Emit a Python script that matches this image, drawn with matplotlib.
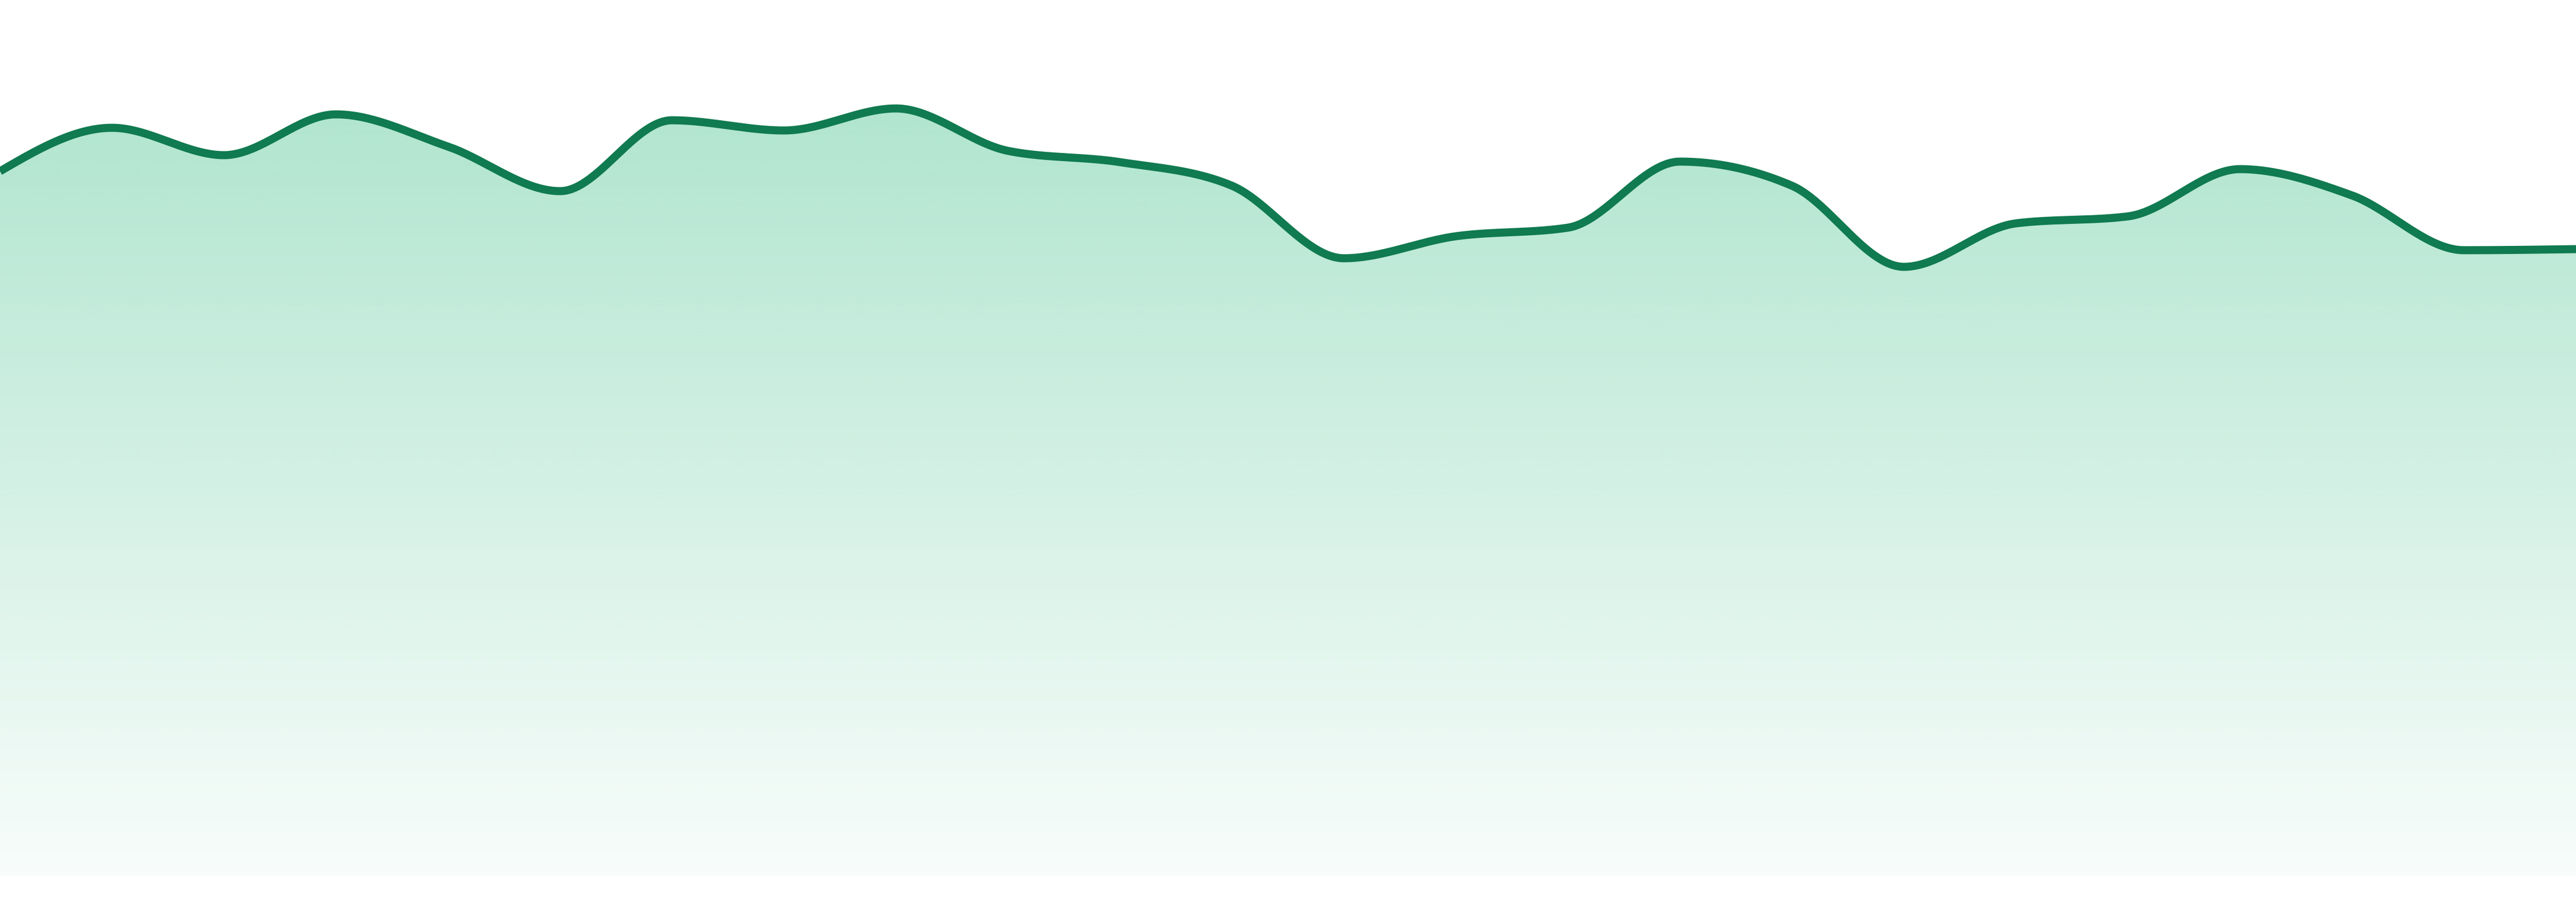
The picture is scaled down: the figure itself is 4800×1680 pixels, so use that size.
import numpy as np
import matplotlib
matplotlib.use("Agg")
import matplotlib.pyplot as plt
from matplotlib.patches import Polygon

# values (arbitrary units, 0 = bottom of the fill)
steps = list(range(24))
values = [131.3, 139.4, 134.3, 141.9, 135.9, 127.6, 140.8, 138.9,
          143.0, 135.1, 133.0, 128.6, 115.1, 119.2, 120.8, 133.1,
          128.6, 113.5, 121.6, 122.9, 131.7, 126.8, 116.6, 116.8]

LINE_COLOR = '#107a50'
FILL_RGB = (16 / 255, 176 / 255, 110 / 255)


def monotone_x(x, y, n=60):
    """Monotone cubic interpolation (same rule as d3 curveMonotoneX)."""
    x = np.asarray(x, float)
    y = np.asarray(y, float)
    h = np.diff(x)
    s = np.diff(y) / h
    t = np.zeros_like(y)
    for i in range(1, len(y) - 1):
        p = (s[i - 1] * h[i] + s[i] * h[i - 1]) / (h[i - 1] + h[i])
        t[i] = (np.sign(s[i - 1]) + np.sign(s[i])) * min(abs(s[i - 1]), abs(s[i]), 0.5 * abs(p))
    t[0] = (3 * s[0] - t[1]) / 2
    t[-1] = (3 * s[-1] - t[-2]) / 2

    xs, ys = [], []
    for i in range(len(h)):
        u = np.linspace(0, 1, n, endpoint=False)
        h00 = 2 * u**3 - 3 * u**2 + 1
        h10 = u**3 - 2 * u**2 + u
        h01 = -2 * u**3 + 3 * u**2
        h11 = u**3 - u**2
        xs.append(x[i] + u * h[i])
        ys.append(h00 * y[i] + h10 * h[i] * t[i] + h01 * y[i + 1] + h11 * h[i] * t[i + 1])
    xs.append([x[-1]])
    ys.append([y[-1]])
    return np.concatenate(xs), np.concatenate(ys)


fig = plt.figure(figsize=(16, 5.6), dpi=300)
ax = fig.add_axes([0, 48 / 1680, 1, 1632 / 1680])
ymax = 163.2
ax.set_xlim(steps[0], steps[-1])
ax.set_ylim(0, ymax)
ax.axis('off')

xs, ys = monotone_x(steps, values)

# gradient area under the curve
verts = [(xs[0], 0)] + list(zip(xs, ys)) + [(xs[-1], 0)]
area = Polygon(verts, closed=True, facecolor='none', edgecolor='none')
ax.add_patch(area)

grad = np.zeros((512, 1, 4))
grad[:, 0, :3] = FILL_RGB
grad[:, 0, 3] = np.linspace(0.37, 0.03, 512)
im = ax.imshow(grad, extent=[steps[0], steps[-1], 0, ymax], aspect='auto',
               interpolation='bilinear', zorder=1)
im.set_clip_path(area)

ax.plot(xs, ys, color=LINE_COLOR, linewidth=3.6, solid_capstyle='butt',
        solid_joinstyle='round', zorder=2)

fig.savefig('out.png', dpi=300, facecolor='white')
